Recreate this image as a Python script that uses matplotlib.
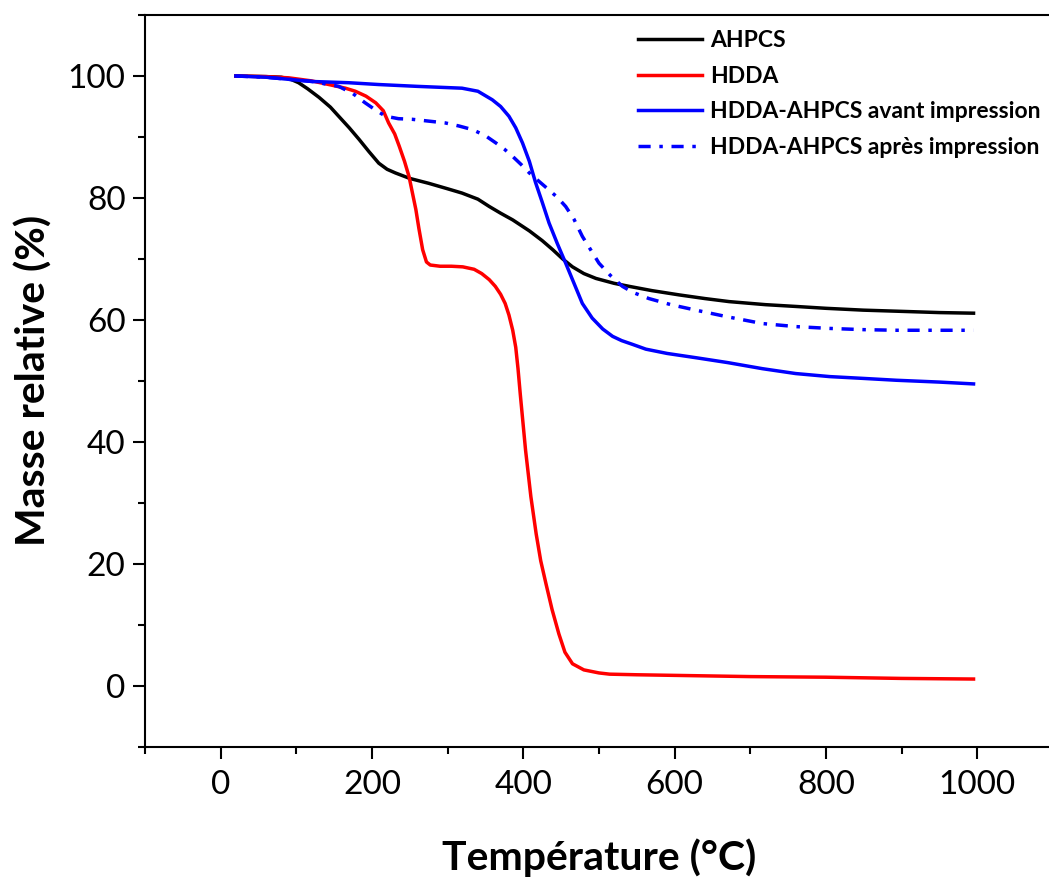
import matplotlib
matplotlib.use('Agg')
import matplotlib.pyplot as plt
from matplotlib.ticker import MultipleLocator

plt.rcParams['font.family'] = ['Lato', 'DejaVu Sans']

# AHPCS
t_ahpcs = [20, 60, 80, 92, 103, 115, 130, 145, 156, 170, 183, 196, 209, 220, 231, 250, 275, 300, 319,
           340, 355, 370, 386, 408, 425, 439, 452, 465, 480, 496, 520, 540, 570, 606, 640, 672,
           720, 761, 800, 849, 900, 950, 995]
m_ahpcs = [100, 99.9, 99.8, 99.5, 98.9, 97.9, 96.5, 94.9, 93.4, 91.5, 89.6, 87.6, 85.7, 84.7, 84.1,
           83.2, 82.4, 81.5, 80.8, 79.8, 78.6, 77.5, 76.4, 74.6, 73.0, 71.5, 70.0, 68.7, 67.6, 66.8,
           66.0, 65.5, 64.8, 64.1, 63.5, 63.0, 62.5, 62.2, 61.9, 61.6, 61.4, 61.2, 61.1]

# HDDA
t_hdda = [20, 60, 90, 120, 143, 165, 178, 192, 205, 215, 222, 230, 236, 243, 249, 254, 258, 262,
          267, 272, 277, 290, 305, 320, 335, 345, 355, 363, 370, 376, 381, 386, 390, 393, 396, 403,
          410, 417, 423, 430, 438, 447, 455, 465, 480, 500, 514, 550, 600, 700, 800, 900, 995]
m_hdda = [100, 99.9, 99.7, 99.2, 98.6, 98.0, 97.5, 96.7, 95.6, 94.3, 92.3, 90.5, 88.5, 86.0, 83.5,
          80.5, 78.1, 75.0, 71.5, 69.5, 69.0, 68.8, 68.8, 68.7, 68.3, 67.6, 66.6, 65.5, 64.2, 62.7,
          60.8, 58.3, 55.5, 52.0, 47.8, 38.6, 31.0, 24.9, 20.5, 16.7, 12.5, 8.5, 5.5, 3.6, 2.6, 2.1,
          1.9, 1.8, 1.7, 1.5, 1.4, 1.2, 1.1]

# HDDA-AHPCS avant impression
t_avant = [20, 60, 121, 169, 209, 260, 319, 340, 359, 370, 381, 390, 399, 408, 416, 425, 434, 445,
           456, 467, 478, 491, 505, 518, 530, 544, 562, 590, 628, 670, 716, 760, 805, 850, 893,
           950, 995]
m_avant = [100, 99.8, 99.1, 98.9, 98.6, 98.3, 98.0, 97.5, 96.1, 95.0, 93.4, 91.5, 89.0, 86.0, 82.6,
           79.3, 75.9, 72.5, 69.3, 66.0, 62.7, 60.3, 58.5, 57.3, 56.6, 56.0, 55.2, 54.5, 53.8, 53.0,
           52.0, 51.2, 50.7, 50.4, 50.1, 49.8, 49.5]

# HDDA-AHPCS après impression
t_apres = [20, 60, 121, 156, 175, 191, 205, 218, 235, 253, 275, 297, 315, 333, 350, 364, 375, 386,
           397, 408, 420, 434, 445, 456, 467, 478, 489, 500, 515, 531, 545, 566, 595, 628, 670,
           716, 760, 805, 850, 893, 950, 995]
m_apres = [100, 99.8, 99.1, 98.3, 97.1, 95.6, 94.4, 93.4, 93.0, 92.9, 92.6, 92.3, 91.8, 91.2, 90.2,
           89.0, 88.0, 86.8, 85.5, 84.1, 82.8, 81.3, 80.1, 78.6, 76.5, 73.7, 71.5, 69.3, 67.3, 65.5,
           64.5, 63.5, 62.5, 61.6, 60.5, 59.4, 58.9, 58.6, 58.4, 58.3, 58.3, 58.3]

fig = plt.figure(figsize=(10.49, 8.84), dpi=100)
ax = fig.add_axes([0.1382, 0.1553, 0.8656, 0.8277])

ax.plot(t_ahpcs, m_ahpcs, color='black', lw=2.5, label='AHPCS')
ax.plot(t_hdda, m_hdda, color='#ff0000', lw=2.5, label='HDDA')
ax.plot(t_avant, m_avant, color='#0000ff', lw=2.5, label='HDDA-AHPCS avant impression')
ax.plot(t_apres, m_apres, color='#0000ff', lw=2.5, ls=(0, (3.5, 2.5, 1, 2.5)),
        label='HDDA-AHPCS après impression')

ax.set_xlim(-100, 1100)
ax.set_ylim(-10, 110)
ax.xaxis.set_major_locator(MultipleLocator(200))
ax.xaxis.set_minor_locator(MultipleLocator(100))
ax.yaxis.set_major_locator(MultipleLocator(20))
ax.yaxis.set_minor_locator(MultipleLocator(10))
ax.tick_params(which='major', direction='out', length=8.5, width=1.5, labelsize=24)
ax.tick_params(axis='x', which='major', pad=8)
ax.tick_params(axis='y', which='major', pad=5.5)
ax.tick_params(which='minor', direction='out', length=5, width=1.5)
for s in ax.spines.values():
    s.set_linewidth(1.5)
ax.spines['right'].set_visible(False)

ax.set_xlabel('Température (°C)', fontsize=29.5, fontweight='bold', labelpad=28)
ax.set_ylabel('Masse relative (%)', fontsize=29.5, fontweight='bold', labelpad=11)

ax.legend(loc='upper left', bbox_to_anchor=(638 / 1049, 1 - 30 / 884), bbox_transform=fig.transFigure,
          frameon=False, prop={'weight': 'bold', 'size': 16.5}, handlelength=2.8,
          handletextpad=0.35, labelspacing=0.64, borderpad=0, borderaxespad=0)

fig.savefig('out.png', dpi=100)
